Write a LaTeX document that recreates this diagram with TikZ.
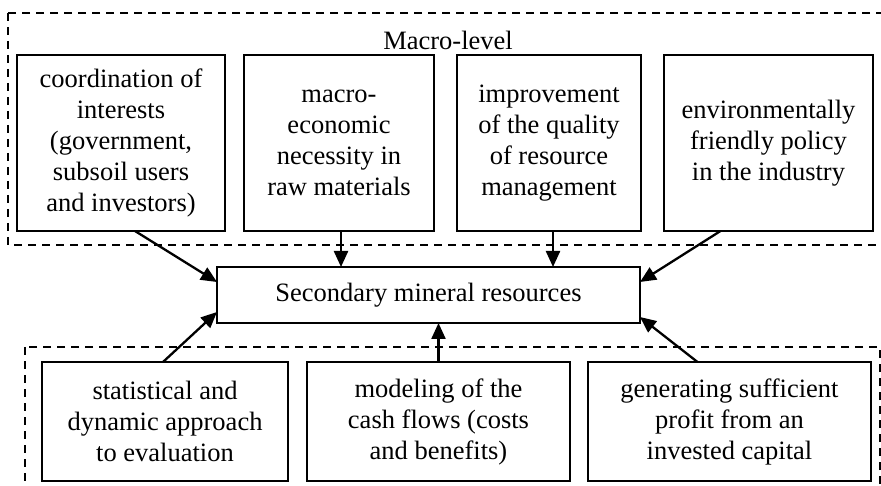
\documentclass[tikz,border=0pt]{standalone}
\usepackage{fontspec}
\setmainfont{Liberation Serif}
\usetikzlibrary{arrows.meta,positioning}

\begin{document}
\begin{tikzpicture}[
    x=1pt, y=-1pt,
    box/.style={draw, line width=1.7pt, outer sep=0pt, inner sep=2pt, align=center, font=\fontsize{26.5}{31}\selectfont},
    topbox/.style={box, minimum height=176pt},
    lowbox/.style={box, minimum height=119pt},
    frame/.style={draw, line width=1.3pt, dash pattern=on 8pt off 6pt},
    arr/.style={-{Triangle[length=16pt, width=14pt]}, line width=2.3pt},
]
\useasboundingbox (0,0) rectangle (881,486);

% dashed groups
\draw[frame] (8,13) rectangle (886,245);
\draw[frame] (25,347) rectangle (880,492);
\node[font=\fontsize{26.5}{31}\selectfont, inner sep=0pt] (macro) at (448,40) {Macro-level};

% macro-level factors
\node[topbox, minimum width=208pt] (coord) at (121,143) {coordination of\\interests\\(government,\\subsoil users\\and investors)};
\node[topbox, minimum width=190pt, right=19pt of coord] (need) {macro-\\economic\\necessity in\\raw materials};
\node[topbox, minimum width=184pt, right=23pt of need] (quality) {improvement\\of the quality\\of resource\\management};
\node[topbox, minimum width=209pt, right=23pt of quality] (eco) {environmentally\\friendly policy\\in the industry};

% central node
\node[box, minimum width=423pt, minimum height=56pt] (smr) at (428.5,295) {Secondary mineral resources};

% lower factors
\node[lowbox, minimum width=246pt] (stat) at (165,421.5) {statistical and\\dynamic approach\\to evaluation};
\node[lowbox, minimum width=263pt, right=19pt of stat] (cash) {modeling of the\\cash flows (costs\\and benefits)};
\node[lowbox, minimum width=283pt, right=18pt of cash] (profit) {generating sufficient\\profit from an\\invested capital};

\draw[arr] ([xshift=14pt]coord.south) -- ([yshift=13pt]smr.west);
\draw[arr] ([xshift=2pt]need.south) -- ([xshift=2pt]need.south |- smr.north);
\draw[arr] ([xshift=4pt]quality.south) -- ([xshift=4pt]quality.south |- smr.north);
\draw[arr] ([xshift=-48pt]eco.south) -- ([yshift=13pt]smr.east);
\draw[arr] ([xshift=-2pt]stat.north) -- ([yshift=-17pt]smr.west);
\draw[arr] (cash.north) -- (cash.north |- smr.south);
\draw[arr] ([xshift=-32pt]profit.north) -- ([yshift=-22pt]smr.east);
\end{tikzpicture}
\end{document}
